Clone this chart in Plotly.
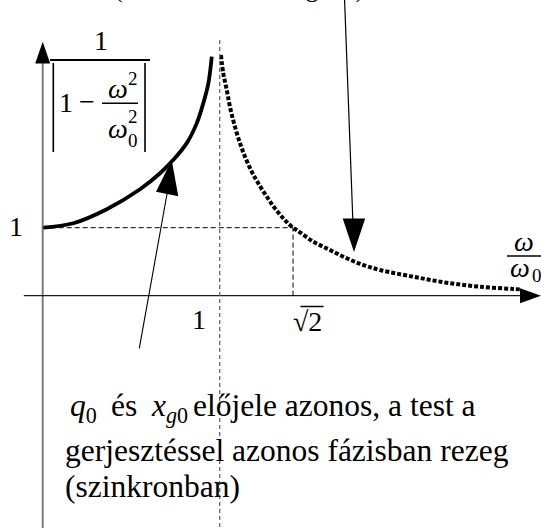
import plotly.graph_objects as go

# ---- data: the response curve 1/|1 - (w/w0)^2| sketched on both sides of resonance ----
# branch below resonance (w < w0), solid
BELOW_X = [0.0, 0.173, 0.362, 0.550, 0.663, 0.738, 0.813, 0.870, 0.907, 0.936, 0.955]
BELOW_Y = [1.0, 1.066, 1.272, 1.566, 1.801, 1.998, 2.240, 2.534, 2.828, 3.122, 3.515]

# branch above resonance (w > w0), dotted
ABOVE_X = [1.007, 1.020, 1.040, 1.058, 1.086, 1.115, 1.143, 1.181, 1.218, 1.266, 1.312,
           1.368, 1.414, 1.435, 1.529, 1.623, 1.718, 1.812, 1.906, 2.094, 2.282, 2.469,
           2.659, 2.708]
ABOVE_Y = [3.540, 3.271, 3.025, 2.779, 2.485, 2.241, 2.044, 1.824, 1.653, 1.456, 1.285,
           1.113, 1.000, 0.966, 0.794, 0.672, 0.550, 0.451, 0.378, 0.279, 0.191, 0.132,
           0.099, 0.091]

SQRT2 = 2 ** 0.5
X_TICKS = [1.0, SQRT2]
X_TICK_TEXT = ["1", "√2"]
Y_TICKS = [1.0]
Y_TICK_TEXT = ["1"]

# ---- layout geometry ----
W, H = 541, 528
ORIGIN_PX = (42.7, 295.7)       # where (0, 0) sits on the page
SCALE_X, SCALE_Y = 177.0, 68.0  # pixels per unit
SERIF = "Liberation Serif"

x_range = [-ORIGIN_PX[0] / SCALE_X, (W - ORIGIN_PX[0]) / SCALE_X]
y_range = [-(H - ORIGIN_PX[1]) / SCALE_Y, ORIGIN_PX[1] / SCALE_Y]


def px(x):
    return x / W


def py(y):
    return 1 - y / H


def text(t, x, y, size, xanchor="center", yanchor="middle"):
    return dict(text=t, x=px(x), y=py(y), xref="paper", yref="paper",
                showarrow=False, xanchor=xanchor, yanchor=yanchor,
                font=dict(family=SERIF, size=size, color="black"))


def seg(x0, y0, x1, y1, color="black", width=1.0, dash=None):
    ln = dict(color=color, width=width)
    if dash:
        ln["dash"] = dash
    return dict(type="line", xref="paper", yref="paper",
                x0=px(x0), y0=py(y0), x1=px(x1), y1=py(y1), line=ln)


def head(tip, b1, b2):
    pts = [tip, b1, b2]
    path = "M " + " L ".join(f"{px(a):.5f},{py(b):.5f}" for a, b in pts) + " Z"
    return dict(type="path", xref="paper", yref="paper", path=path,
                fillcolor="black", line=dict(width=0))


fig = go.Figure()

fig.add_trace(go.Scatter(x=BELOW_X, y=BELOW_Y, mode="lines",
                         line=dict(color="black", width=3.8, shape="spline"),
                         hoverinfo="skip"))
fig.add_trace(go.Scatter(x=ABOVE_X, y=ABOVE_Y, mode="lines",
                         line=dict(color="black", width=4, shape="spline", dash="4px,2px"),
                         hoverinfo="skip"))

shapes = []
# coordinate axes with arrowheads
shapes.append(seg(ORIGIN_PX[0], 535, ORIGIN_PX[0], 63, color="#7a7a7a", width=2))
shapes.append(head((ORIGIN_PX[0], 41.7), (35.2, 63.5), (50.2, 63.5)))
shapes.append(seg(23.8, ORIGIN_PX[1], 521, ORIGIN_PX[1], color="#1a1a1a", width=1.3))
shapes.append(head((541, ORIGIN_PX[1]), (520, 288.2), (520, 303.2)))

# guide lines (data coordinates)
shapes.append(dict(type="line", xref="x", yref="y", x0=X_TICKS[0], x1=X_TICKS[0],
                   y0=(ORIGIN_PX[1] - 40) / SCALE_Y, y1=y_range[0] - 0.2,
                   line=dict(color="#666666", width=1.3, dash="4px,3px")))
shapes.append(dict(type="line", xref="x", yref="y", x0=0, x1=X_TICKS[1],
                   y0=Y_TICKS[0], y1=Y_TICKS[0],
                   line=dict(color="black", width=1, dash="5px,3px")))
shapes.append(dict(type="line", xref="x", yref="y", x0=X_TICKS[1], x1=X_TICKS[1],
                   y0=0, y1=Y_TICKS[0],
                   line=dict(color="black", width=1, dash="5px,3px")))

# pointer arrows
shapes.append(seg(139.3, 348.3, 167.0, 194.0, width=1.1))
shapes.append(head((171.7, 160.0), (156.0, 191.7), (178.3, 196.2)))
shapes.append(seg(344.5, -2.0, 352.8, 219.0, width=1.2))
shapes.append(head((354.0, 252.0), (342.7, 218.5), (365.2, 218.5)))

# y-axis title: 1 / |1 - w^2/w0^2|
shapes.append(seg(50, 60, 150, 60, width=2))
shapes.append(seg(53.3, 63, 53.3, 152, width=1.6))
shapes.append(seg(145, 63, 145, 152, width=1.6))
shapes.append(seg(102, 103.3, 138, 103.3, width=1.6))
# x-axis title bar: w / w0
shapes.append(seg(507, 256, 541, 256, width=1.6))
# overline of the square root
shapes.append(seg(300.5, 306.5, 323.5, 306.5, width=1.5))

annotations = [
    # y-axis title
    text("1", 101, 41, 28),
    text("1", 65.5, 102.5, 28),
    text("−", 87, 101.7, 28),
    text("<i>ω</i>", 117.5, 88.5, 28),
    text("2", 133, 78.5, 19),
    text("<i>ω</i>", 117.5, 128.5, 28),
    text("2", 133, 116, 19),
    text("0", 132.5, 140, 19),
    # x-axis title
    text("<i>ω</i>", 524, 242, 28),
    text("<i>ω</i>", 520, 267, 28),
    text("0", 536.5, 275, 19),
    # bottom explanation
    text("<i>q</i><sub>0</sub>", 68, 386, 31.5, xanchor="left", yanchor="top"),
    text("és", 109, 386, 31.5, xanchor="left", yanchor="top"),
    text("<i>x</i><sub><i>g</i>0</sub>", 149, 386, 31.5, xanchor="left", yanchor="top"),
    text("előjele azonos, a test a", 190.5, 386, 31.5, xanchor="left", yanchor="top"),
    text("gerjesztéssel azonos fázisban rezeg", 63, 431, 31.5, xanchor="left", yanchor="top"),
    text("(szinkronban)", 63, 467, 31.5, xanchor="left", yanchor="top"),
    # last line of the upper explanation, mostly above the page
    text("(ellenfázisban rezegnek)", 112, 4.5, 25.5, xanchor="left", yanchor="bottom"),
]

# tick labels, anchored to their values on the axes
annotations.append(dict(text=Y_TICK_TEXT[0], x=0, y=Y_TICKS[0], xref="x", yref="y",
                        showarrow=False, xshift=-26.7, yshift=1.4,
                        font=dict(family=SERIF, size=28, color="black")))
annotations.append(dict(text=X_TICK_TEXT[0], x=X_TICKS[0], y=0, xref="x", yref="y",
                        showarrow=False, xshift=-21, yshift=-24,
                        font=dict(family=SERIF, size=28, color="black")))
annotations.append(dict(text=X_TICK_TEXT[1], x=X_TICKS[1], y=0, xref="x", yref="y",
                        showarrow=False, xshift=14, yshift=-26,
                        font=dict(family=SERIF, size=28, color="black")))

fig.update_layout(
    width=W, height=H,
    margin=dict(l=0, r=0, t=0, b=0, pad=0),
    paper_bgcolor="white", plot_bgcolor="white",
    showlegend=False,
    xaxis=dict(range=x_range, visible=False, fixedrange=True),
    yaxis=dict(range=y_range, visible=False, fixedrange=True),
    shapes=shapes,
    annotations=annotations,
)

fig.write_html("out.html", config={"displayModeBar": False, "staticPlot": True})
